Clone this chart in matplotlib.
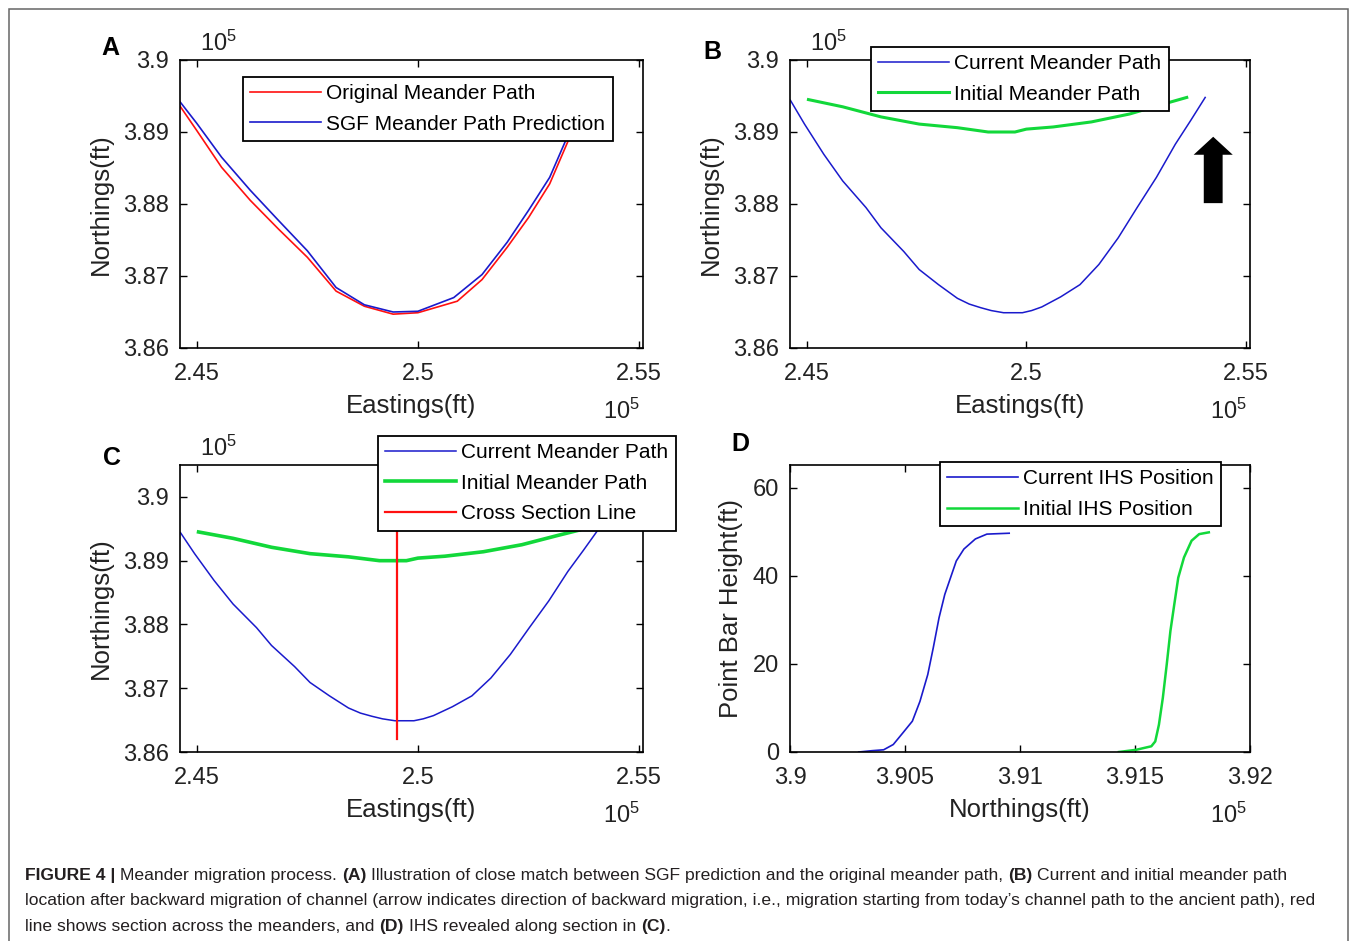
import numpy as np
import matplotlib.pyplot as plt
from matplotlib.patches import FancyArrow, Rectangle

plt.rcParams['font.family'] = ['Liberation Sans', 'DejaVu Sans']
plt.rcParams['mathtext.default'] = 'regular'

# Eastings / Northings are in units of 1e5 ft (as on the axes)
orig_east = [2.4462, 2.4500, 2.4556, 2.4621, 2.4685, 2.4750, 2.4815, 2.4879, 2.4944,
             2.5000, 2.5089, 2.5145, 2.5202, 2.5250, 2.5298, 2.5347, 2.5380, 2.5405]
orig_north = [3.8936, 3.8902, 3.8851, 3.8805, 3.8765, 3.8726, 3.8679, 3.8658, 3.8647,
              3.8649, 3.8665, 3.8695, 3.8740, 3.8781, 3.8828, 3.8898, 3.8920, 3.8940]

sgf_east = [2.4462, 2.4500, 2.4556, 2.4621, 2.4685, 2.4750, 2.4815, 2.4879, 2.4944,
            2.5000, 2.5081, 2.5145, 2.5202, 2.5250, 2.5298, 2.5339, 2.5375, 2.5405]
sgf_north = [3.8942, 3.8912, 3.8865, 3.8819, 3.8777, 3.8735, 3.8684, 3.8660, 3.8650,
             3.8651, 3.8670, 3.8702, 3.8747, 3.8791, 3.8837, 3.8895, 3.8918, 3.8945]

cur_east = [2.4463, 2.4495, 2.4539, 2.4582, 2.4635, 2.4669, 2.4721, 2.4756, 2.4800,
            2.4843, 2.4870, 2.4896, 2.4920, 2.4948, 2.4991, 2.5012, 2.5035, 2.5078,
            2.5122, 2.5165, 2.5209, 2.5252, 2.5296, 2.5339, 2.5374, 2.5407]
cur_north = [3.8944, 3.8911, 3.8869, 3.8832, 3.8795, 3.8767, 3.8734, 3.8709, 3.8688,
             3.8669, 3.8661, 3.8656, 3.8652, 3.8649, 3.8649, 3.8652, 3.8657, 3.8671,
             3.8688, 3.8716, 3.8753, 3.8795, 3.8837, 3.8883, 3.8916, 3.8948]

init_east = [2.4504, 2.4582, 2.4669, 2.4756, 2.4843, 2.4913, 2.4974, 2.5000, 2.5061,
             2.5148, 2.5235, 2.5313, 2.5365]
init_north = [3.8945, 3.8935, 3.8921, 3.8911, 3.8906, 3.8900, 3.8900, 3.8904, 3.8907,
              3.8914, 3.8925, 3.8939, 3.8948]

section_east = [2.4953, 2.4953]
section_north = [3.8621, 3.9050]

# Panel D: northing (1e5 ft) vs point bar height (ft)
ihs_cur_north = [3.90299, 3.90357, 3.90407, 3.90449, 3.90490, 3.90532, 3.90565, 3.90599,
                 3.90623, 3.90648, 3.90673, 3.90698, 3.90723, 3.90756, 3.90806, 3.90856,
                 3.90953]
ihs_cur_height = [0, 0.3, 0.5, 1.7, 4.3, 7.0, 11.5, 17.6, 23.7, 30.5, 35.8, 39.6, 43.4,
                  46.1, 48.4, 49.5, 49.7]
ihs_init_north = [3.91430, 3.91505, 3.91571, 3.91588, 3.91604, 3.91621, 3.91638, 3.91654,
                  3.91671, 3.91688, 3.91713, 3.91746, 3.91779, 3.91821]
ihs_init_height = [0, 0.5, 1.3, 2.4, 6.2, 12.3, 19.9, 27.5, 33.6, 39.6, 44.2, 48.0, 49.5,
                   49.9]

east_ticks = [2.45, 2.5, 2.55]
east_labels = ['2.45', '2.5', '2.55']
north_ticks = [3.86, 3.87, 3.88, 3.89, 3.9]
north_labels = ['3.86', '3.87', '3.88', '3.89', '3.9']
d_ticks = [3.9, 3.905, 3.91, 3.915, 3.92]
d_labels = ['3.9', '3.905', '3.91', '3.915', '3.92']
height_ticks = [0, 20, 40, 60]

RED = '#ff1010'
BLUE = '#1a1acc'
GREEN = '#12d83a'
TXT = '#222222'

W, H = 1355, 941
fig = plt.figure(figsize=(W / 100, H / 100), dpi=100)


def px_axes(left, top, right, bottom):
    return fig.add_axes([left / W, 1 - bottom / H, (right - left) / W, (bottom - top) / H])


def style(ax):
    ax.tick_params(direction='in', length=5, width=1, top=True, right=True,
                   labelsize=17, colors='black', labelcolor=TXT)
    ax.tick_params(axis='x', pad=11)
    ax.tick_params(axis='y', pad=8)
    for s in ax.spines.values():
        s.set_linewidth(1.2)


def add_legend(ax, x0, ytop, handles_labels):
    h, l = zip(*handles_labels)
    leg = ax.legend(h, l, loc='upper left', bbox_to_anchor=(x0, ytop), borderaxespad=0,
                    fancybox=False, framealpha=1, edgecolor='black', fontsize=15,
                    handlelength=3.4, handletextpad=0.25, labelspacing=0.55,
                    borderpad=0.35)
    leg.get_frame().set_linewidth(1.3)
    for t in leg.get_texts():
        t.set_color('black')
    return leg


def exp_labels(ax, top=True):
    if top:
        ax.text(0.043, 1.031, '$10^5$', transform=ax.transAxes, ha='left',
                va='baseline', fontsize=17, color=TXT)
    ax.text(0.914, -0.2465, '$10^5$', transform=ax.transAxes, ha='left',
            va='baseline', fontsize=17, color=TXT)


def meander_axes(ax, ylim):
    ax.set_xlim(2.4462, 2.5509)
    ax.set_ylim(*ylim)
    ax.set_xticks(east_ticks)
    ax.set_xticklabels(east_labels)
    ax.set_yticks(north_ticks)
    ax.set_yticklabels(north_labels)
    ax.set_xlabel('Eastings(ft)', fontsize=18.5, labelpad=6, color=TXT)
    ax.set_ylabel('Northings(ft)', fontsize=18.5, labelpad=7, color=TXT)
    style(ax)
    exp_labels(ax)


# A
axA = px_axes(180, 60, 643, 348)
lA1, = axA.plot(orig_east, orig_north, color=RED, lw=1.2)
lA2, = axA.plot(sgf_east, sgf_north, color=BLUE, lw=1.2)
meander_axes(axA, (3.86, 3.9))
add_legend(axA, 0.136, 0.941, [(lA1, 'Original Meander Path'),
                               (lA2, 'SGF Meander Path Prediction')])

# B
axB = px_axes(790, 60, 1250, 348)
lB1, = axB.plot(cur_east, cur_north, color=BLUE, lw=1.1)
lB2, = axB.plot(init_east, init_north, color=GREEN, lw=2.2)
meander_axes(axB, (3.86, 3.9))
add_legend(axB, 0.176, 1.045, [(lB1, 'Current Meander Path'),
                               (lB2, 'Initial Meander Path')])
axB.add_patch(FancyArrow(0.92, 0.503, 0, 0.168, width=0.041, head_width=0.085,
                         head_length=0.0625, length_includes_head=False,
                         transform=axB.transAxes, color='black', lw=0))

# C
axC = px_axes(180, 465, 643, 752)
lC1, = axC.plot(cur_east, cur_north, color=BLUE, lw=1.1)
lC2, = axC.plot(init_east, init_north, color=GREEN, lw=2.6)
lC3, = axC.plot(section_east, section_north, color=RED, lw=1.6)
meander_axes(axC, (3.86, 3.905))
add_legend(axC, 0.428, 1.101, [(lC1, 'Current Meander Path'),
                               (lC2, 'Initial Meander Path'),
                               (lC3, 'Cross Section Line')])

# D
axD = px_axes(790, 465, 1250, 752)
lD1, = axD.plot(ihs_cur_north, ihs_cur_height, color=BLUE, lw=1.2)
lD2, = axD.plot(ihs_init_north, ihs_init_height, color=GREEN, lw=1.8)
axD.set_xlim(3.9, 3.92)
axD.set_ylim(0, 65.2)
axD.set_xticks(d_ticks)
axD.set_xticklabels(d_labels)
axD.set_yticks(height_ticks)
axD.set_xlabel('Northings(ft)', fontsize=18.5, labelpad=6, color=TXT)
axD.set_ylabel('Point Bar Height(ft)', fontsize=18.5, labelpad=7, color=TXT)
style(axD)
exp_labels(axD, top=False)
add_legend(axD, 0.326, 1.010, [(lD1, 'Current IHS Position'),
                               (lD2, 'Initial IHS Position')])

# panel letters
for letter, (px, py) in {'A': (110, 48), 'B': (712, 52), 'C': (112, 458), 'D': (740, 444)}.items():
    fig.text(px / W, 1 - py / H, letter, fontsize=18, fontweight='bold',
             ha='center', va='center', color='black')

# outer frame
fig.patches.append(Rectangle((9 / W, -0.05), (1348 - 9) / W, 1 - 9 / H + 0.05,
                             transform=fig.transFigure, fill=False,
                             edgecolor='#666666', lw=1.1))

# caption with bold fragments
caption = [
    [('FIGURE 4 |', True), (' Meander migration process.', False), (' (A)', True),
     (' Illustration of close match between SGF prediction and the original meander path,', False),
     (' (B)', True), (' Current and initial meander path', False)],
    [('location after backward migration of channel (arrow indicates direction of backward '
      'migration, i.e., migration starting from today\u2019s channel path to the ancient path), red', False)],
    [('line shows section across the meanders, and', False), (' (D)', True),
     (' IHS revealed along section in', False), (' (C)', True), ('.', False)],
]
cap_size = 12.6
renderer = fig.canvas.get_renderer()


def text_width(s, bold):
    t = fig.text(0, 0, s, fontsize=cap_size, fontweight='bold' if bold else 'normal')
    w = t.get_window_extent(renderer).width
    t.remove()
    return w


space_w = {b: text_width('x x', b) - text_width('xx', b) for b in (True, False)}
for i, parts in enumerate(caption):
    x = 25.0
    y = 880 + 25.5 * i
    for s, bold in parts:
        if s.startswith(' '):
            x += space_w[bold]
            s = s.lstrip(' ')
        t = fig.text(x / W, 1 - y / H, s, fontsize=cap_size, va='baseline', ha='left',
                     fontweight='bold' if bold else 'normal', color='#231f20')
        x += t.get_window_extent(renderer).width

fig.savefig('out.png', dpi=100)
